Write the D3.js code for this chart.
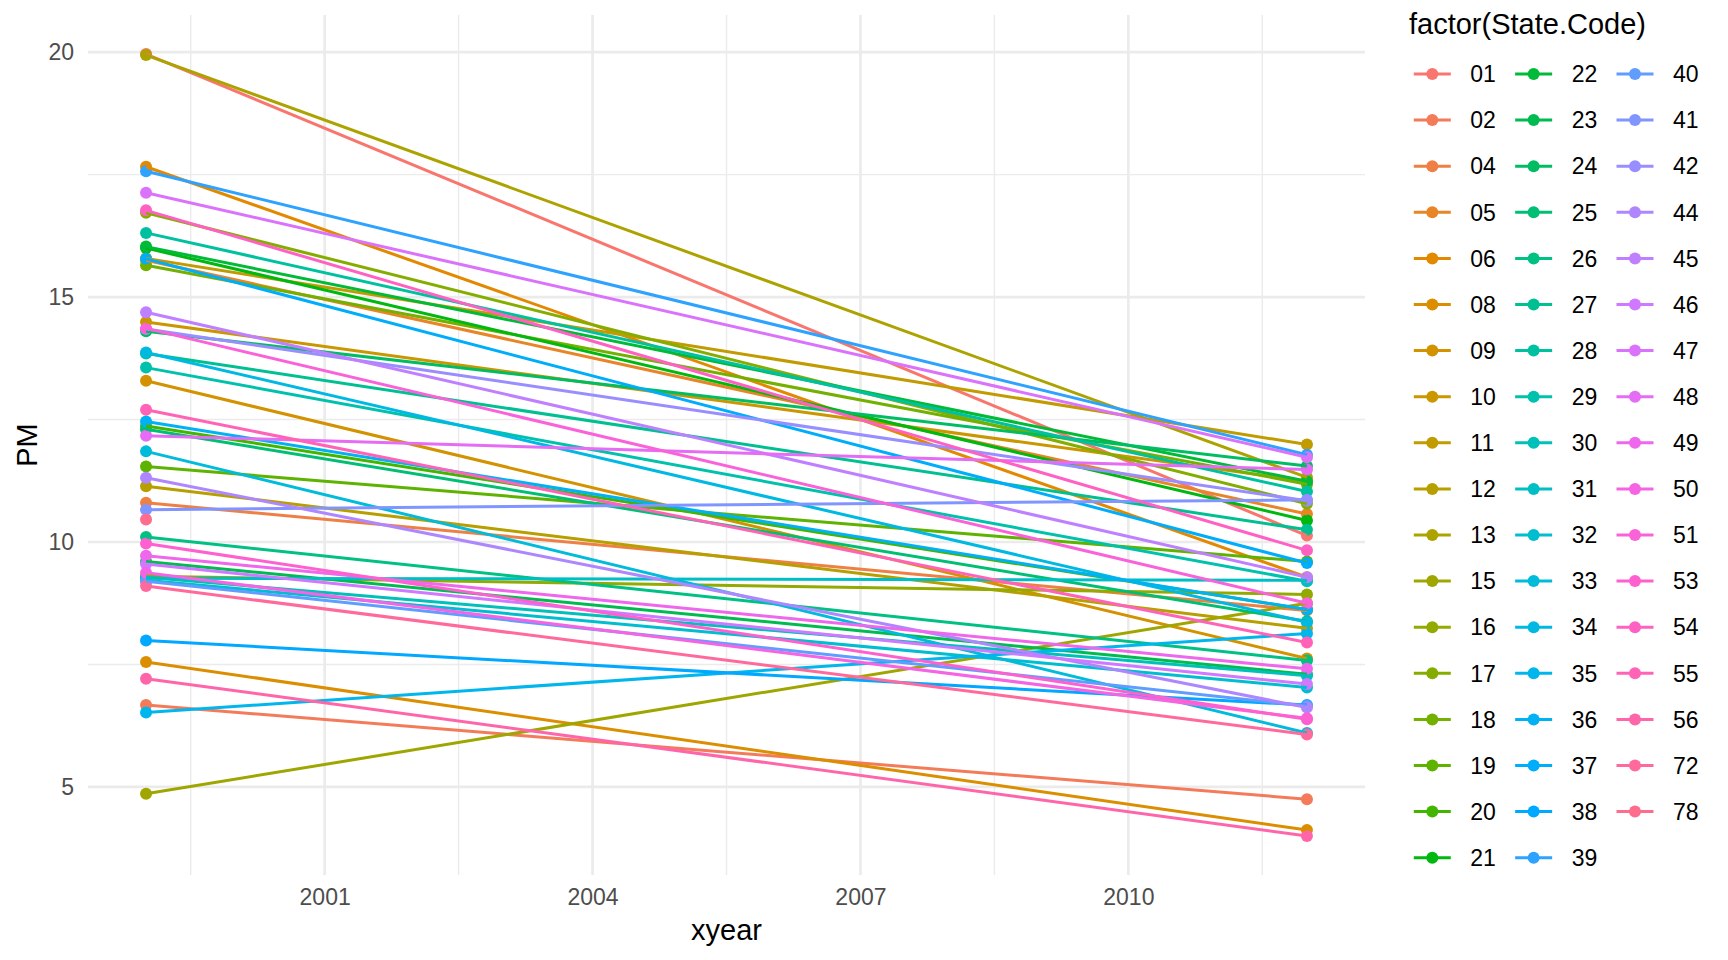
<!DOCTYPE html>
<html><head><meta charset="utf-8">
<script src="https://cdn.jsdelivr.net/npm/d3@7/dist/d3.min.js"></script>
<style>
body{margin:0;background:#fff}
text{font-family:"Liberation Sans",Arial,Helvetica,sans-serif}
</style>
</head><body>
<svg id="chart" width="1728" height="960"></svg>
<script>
// ---- data ----
const states = ["01","02","04","05","06","08","09","10","11","12","13","15","16","17","18","19","20","21","22","23","24","25","26","27","28","29","30","31","32","33","34","35","36","37","38","39","40","41","42","44","45","46","47","48","49","50","51","53","54","55","56","72","78"];
const pm1999 = [19.96,6.67,10.80,15.75,17.66,7.55,13.29,14.49,15.79,11.14,19.94,4.86,9.30,16.72,15.65,11.54,12.37,16.00,16.03,9.60,14.30,12.30,10.10,13.85,16.31,13.56,9.28,9.26,9.22,11.85,13.87,6.52,12.46,15.78,7.99,17.57,9.20,10.66,14.35,11.31,14.69,9.55,17.13,12.17,9.72,9.37,14.36,9.97,16.77,12.70,7.21,9.10,10.46];
const pm2012 = [10.13,4.75,8.60,10.57,9.28,4.12,7.62,11.24,11.99,8.24,11.32,8.75,8.93,10.78,11.18,9.60,8.62,10.44,11.24,7.30,11.55,8.38,7.58,10.25,11.03,9.20,7.27,9.22,7.03,6.10,8.36,8.13,8.62,9.57,6.67,11.78,6.65,10.86,10.84,6.62,9.28,7.10,11.73,11.48,7.41,6.40,8.75,6.38,9.83,7.95,4.00,6.07,null];
const years = [1999, 2012];
const xBreaks = [2001, 2004, 2007, 2010];
const xMinor = [1999.5, 2002.5, 2005.5, 2008.5, 2011.5];
const yBreaks = [5, 10, 15, 20];
const yMinor = [7.5, 12.5, 17.5];
const xTitle = "xyear", yTitle = "PM", legendTitle = "factor(State.Code)";

// ---- R-style hcl (polar Luv) colour ----
function hclR(h, c, l) {
  const Xn = 95.047, Yn = 100.0, Zn = 108.883;
  const hr = h * Math.PI / 180;
  const U = c * Math.cos(hr), V = c * Math.sin(hr);
  const Y = l > 7.999592 ? Yn * Math.pow((l + 16) / 116, 3) : Yn * l / 903.3;
  const t = Xn + Yn + Zn, x = Xn / t, y = Yn / t;
  const un = 2 * x / (6 * y - x + 1.5), vn = 4.5 * y / (6 * y - x + 1.5);
  const u = U / (13 * l) + un, v = V / (13 * l) + vn;
  const X = 9.0 * Y * u / (4 * v), Z = -X / 3 - 5 * Y + 3 * Y / v;
  const xs = X / 100, ys = Y / 100, zs = Z / 100;
  const lin = [
    3.240479 * xs - 1.537150 * ys - 0.498535 * zs,
    -0.969256 * xs + 1.875992 * ys + 0.041556 * zs,
    0.055648 * xs - 0.204043 * ys + 1.057311 * zs];
  const g = lin.map(q => {
    const s = q > 0.00304 ? 1.055 * Math.pow(q, 1 / 2.4) - 0.055 : 12.92 * q;
    return Math.round(Math.max(0, Math.min(1, s)) * 255);
  });
  return d3.rgb(g[0], g[1], g[2]).formatHex();
}
const n = states.length;
const colors = states.map((s, i) => hclR(15 + i * 360 / (n + 1), 100, 65));
const color = d3.scaleOrdinal().domain(states).range(colors);

const series = states.map((s, i) => ({
  state: s,
  values: [{year: years[0], pm: pm1999[i]}, {year: years[1], pm: pm2012[i]}].filter(d => d.pm != null)
}));

// ---- layout ----
const svg = d3.select("#chart");
const P = {left: 88, right: 1365, top: 15, bottom: 875};

const xExt = d3.extent(years), xPad = (xExt[1] - xExt[0]) * 0.05;
const x = d3.scaleLinear().domain([xExt[0] - xPad, xExt[1] + xPad]).range([P.left, P.right]);
const allPm = pm1999.concat(pm2012).filter(v => v != null);
const yExt = d3.extent(allPm), yPad = (yExt[1] - yExt[0]) * 0.05;
const y = d3.scaleLinear().domain([yExt[0] - yPad, yExt[1] + yPad]).range([P.bottom, P.top]);

// gridlines
const grid = svg.append("g");
grid.selectAll(".ymin").data(yMinor).join("line")
  .attr("x1", P.left).attr("x2", P.right).attr("y1", d => y(d)).attr("y2", d => y(d))
  .attr("stroke", "#EBEBEB").attr("stroke-width", 1.4);
grid.selectAll(".xmin").data(xMinor).join("line")
  .attr("y1", P.top).attr("y2", P.bottom).attr("x1", d => x(d)).attr("x2", d => x(d))
  .attr("stroke", "#EBEBEB").attr("stroke-width", 1.4);
grid.selectAll(".ymaj").data(yBreaks).join("line")
  .attr("x1", P.left).attr("x2", P.right).attr("y1", d => y(d)).attr("y2", d => y(d))
  .attr("stroke", "#EBEBEB").attr("stroke-width", 2.7);
grid.selectAll(".xmaj").data(xBreaks).join("line")
  .attr("y1", P.top).attr("y2", P.bottom).attr("x1", d => x(d)).attr("x2", d => x(d))
  .attr("stroke", "#EBEBEB").attr("stroke-width", 2.7);

// axes
const ax = svg.append("g").attr("transform", `translate(0,${P.bottom})`)
  .call(d3.axisBottom(x).tickValues(xBreaks).tickFormat(d3.format("d")).tickSize(0).tickPadding(14));
const ay = svg.append("g").attr("transform", `translate(${P.left},0)`)
  .call(d3.axisLeft(y).tickValues(yBreaks).tickSize(0).tickPadding(14));
[ax, ay].forEach(a => {
  a.select(".domain").remove();
  a.selectAll("text").attr("fill", "#4D4D4D").style("font-size", "23px")
    .style("font-family", '"Liberation Sans",Arial,sans-serif');
});

// axis titles
svg.append("text").attr("x", (P.left + P.right) / 2).attr("y", 940)
  .attr("text-anchor", "middle").style("font-size", "29px").attr("fill", "#000").text(xTitle);
svg.append("text").attr("transform", `translate(37,${(P.top + P.bottom) / 2}) rotate(-90)`)
  .attr("text-anchor", "middle").style("font-size", "29px").attr("fill", "#000").text(yTitle);

// marks: points layer then lines layer
const plot = svg.append("g");
const pts = series.flatMap(s => s.values.map(v => ({state: s.state, ...v})));
plot.append("g").selectAll("circle").data(pts).join("circle")
  .attr("cx", d => x(d.year)).attr("cy", d => y(d.pm)).attr("r", 6)
  .attr("fill", d => color(d.state));
const line = d3.line().x(d => x(d.year)).y(d => y(d.pm));
plot.append("g").selectAll("path").data(series.filter(s => s.values.length > 1)).join("path")
  .attr("d", s => line(s.values)).attr("fill", "none")
  .attr("stroke", s => color(s.state)).attr("stroke-width", 3);

// legend
const lg = svg.append("g");
lg.append("text").attr("x", 1409).attr("y", 34).style("font-size", "29px").attr("fill", "#000").text(legendTitle);
const perCol = Math.ceil(n / 3);
const colX = d3.scalePoint().domain([0, 1, 2]).range([1432.3, 1635]);
const rowY = d3.scaleLinear().domain([0, perCol - 1]).range([74, 857.7]);
const items = lg.selectAll(".item").data(states).join("g")
  .attr("transform", (s, i) => `translate(${colX(Math.floor(i / perCol))},${rowY(i % perCol)})`);
items.append("line").attr("x1", -18.5).attr("x2", 18.5).attr("y1", 0).attr("y2", 0)
  .attr("stroke", s => color(s)).attr("stroke-width", 3);
items.append("circle").attr("r", 6).attr("fill", s => color(s));
items.append("text").attr("x", 38).attr("y", 8.2).style("font-size", "23px").attr("fill", "#000").text(s => s);
</script>
</body></html>
